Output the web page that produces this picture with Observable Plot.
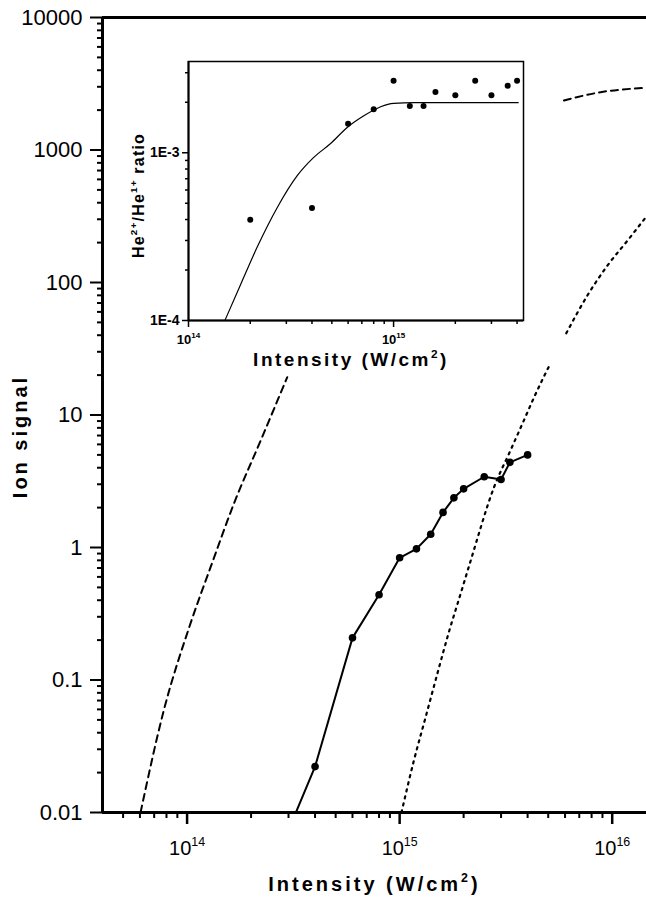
<!DOCTYPE html>
<html>
<head>
<meta charset="utf-8">
<script src="https://cdn.jsdelivr.net/npm/d3@7"></script>
<script src="https://cdn.jsdelivr.net/npm/@observablehq/plot@0.6"></script>
<style>
  html, body { margin: 0; padding: 0; background: #fff; }
  #wrap { position: relative; width: 646px; height: 907px; overflow: hidden; }
  #wrap > svg { position: absolute; }
  #inset text { font-weight: bold; }
</style>
</head>
<body>
<div id="wrap"></div>
<script>
// ---------- Main chart data ----------
// Measured He2+ ion signal (solid line with dots)
const he2Intensity = [4e14, 6e14, 8e14, 1e15, 1.2e15, 1.4e15, 1.6e15, 1.8e15, 2e15, 2.5e15, 3e15, 3.3e15, 4e15];
const he2Signal    = [0.0222, 0.208, 0.44, 0.836, 0.977, 1.26, 1.84, 2.37, 2.77, 3.42, 3.26, 4.39, 5.0];
// the solid line runs on below the first dot to the bottom axis
const he2LineIntensity = [3.25e14, ...he2Intensity];
const he2LineSignal    = [0.01, ...he2Signal];

// Dashed theory curve (visible parts only; the middle is hidden in the original)
const dashedIntensity = [6.04e13, 7.77e13, 1.03e14, 1.29e14, 1.66e14, 2.22e14, 2.96e14, NaN, 5.93e15, 8.81e15, 1.44e16];
const dashedSignal    = [0.01, 0.059, 0.258, 0.71, 2.14, 6.42, 19.3, NaN, 2366, 2730, 2946];

// Dotted theory curve (with the gap seen in the original)
const dottedIntensity = [1.02e15, 1.167e15, 1.325e15, 1.503e15, 1.705e15, 1.936e15, 2.16e15, 2.78e15, 3.32e15, 3.84e15, 4.29e15, 5.13e15, NaN, 6.08e15, 7.64e15, 9.49e15, 1.18e16, 1.44e16];
const dottedSignal    = [0.01, 0.0247, 0.0524, 0.111, 0.23, 0.448, 0.798, 2.85, 5.39, 9.09, 13.6, 24.6, NaN, 41.4, 79.7, 134, 207, 311];

// Main axis ticks
const mainYMajor = [0.01, 0.1, 1, 10, 100, 1000, 10000];
const mainXMajor = [1e14, 1e15, 1e16];

// ---------- Inset data ----------
const ratioIntensity = [2e14, 4e14, 6e14, 8e14, 1e15, 1.2e15, 1.4e15, 1.6e15, 2e15, 2.5e15, 3e15, 3.6e15, 4e15];
const ratioValue     = [3.99e-4, 4.69e-4, 1.49e-3, 1.82e-3, 2.69e-3, 1.90e-3, 1.90e-3, 2.30e-3, 2.20e-3, 2.69e-3, 2.20e-3, 2.51e-3, 2.69e-3];
const fitIntensity = [1.51e14, 1.80e14, 2.16e14, 2.71e14, 3.39e14, 4.08e14, 4.93e14, 5.94e14, 7.16e14, 8.65e14, 1.0e15, 1.26e15, 4.05e15];
const fitValue     = [1.01e-4, 1.65e-4, 2.73e-4, 4.72e-4, 7.30e-4, 9.38e-4, 1.135e-3, 1.415e-3, 1.66e-3, 1.88e-3, 1.97e-3, 1.99e-3, 1.99e-3];
const insetYMajor = [1e-4, 1e-3];
const insetXMajor = [1e14, 1e15];

// ---------- Tables ----------
const zip = (xs, ys) => xs.map((x, i) => ({x, y: ys[i]}));
const he2Pts  = zip(he2Intensity, he2Signal);
const he2Line = zip(he2LineIntensity, he2LineSignal);
const dashed  = zip(dashedIntensity, dashedSignal);
const dotted  = zip(dottedIntensity, dottedSignal);
const ratioPts = zip(ratioIntensity, ratioValue);
const fitLine  = zip(fitIntensity, fitValue);

const k29 = [2, 3, 4, 5, 6, 7, 8, 9];
const mainYMinor = mainYMajor.slice(0, -1).flatMap(m => k29.map(k => k * m));
const mainXMinor = [5e13, 6e13, 7e13, 8e13, 9e13, ...[1e14, 1e15].flatMap(m => k29.map(k => k * m))];
const insetYMinor = [...k29.map(k => k * 1e-4), 2e-3, 3e-3];
const insetXMinor = [...k29.map(k => k * 1e14), 2e15, 3e15, 4e15];

const FONT = "'Liberation Sans', Arial, Helvetica, sans-serif";
const pow10 = d => "10^{" + Math.round(Math.log10(d)) + "}";
const blank = () => "";

const main = Plot.plot({
  width: 646, height: 907,
  marginLeft: 102, marginRight: 0, marginTop: 17, marginBottom: 95,
  style: {fontFamily: FONT, background: "white", color: "black"},
  x: {type: "log", domain: [4e13, 1.45e16]},
  y: {type: "log", domain: [0.01, 10000]},
  marks: [
    Plot.axisY(mainYMajor, {anchor: "left", tickSize: 12, tickPadding: 8, fontSize: 22, fontWeight: "normal", strokeWidth: 2, tickFormat: d => String(d), label: null}),
    Plot.axisY(mainYMinor, {anchor: "left", tickSize: 5, strokeWidth: 2, tickFormat: blank, label: null}),
    Plot.axisX(mainXMajor, {anchor: "bottom", tickSize: 12, tickPadding: 16, fontSize: 20, fontWeight: "normal", strokeWidth: 2.5, tickFormat: pow10, label: null}),
    Plot.axisX(mainXMinor, {anchor: "bottom", tickSize: 6, strokeWidth: 2, tickFormat: blank, label: null}),
    Plot.line(dashed, {x: "x", y: "y", stroke: "black", strokeWidth: 2, strokeDasharray: "7,5", curve: "monotone-x", clip: true}),
    Plot.line(dotted, {x: "x", y: "y", stroke: "black", strokeWidth: 2.2, strokeDasharray: "2.2,5", curve: "monotone-x", clip: true}),
    Plot.line(he2Line, {x: "x", y: "y", stroke: "black", strokeWidth: 2, clip: true}),
    Plot.dot(he2Pts, {x: "x", y: "y", r: 3.8, fill: "black", stroke: "none"}),
    Plot.ruleX([4e13], {stroke: "black", strokeWidth: 3}),
    Plot.ruleY([0.01], {stroke: "black", strokeWidth: 3}),
    Plot.ruleY([10000], {stroke: "black", strokeWidth: 3}),
    Plot.text(["Ion signal"], {text: d => d, frameAnchor: "left", textAnchor: "middle", rotate: -90, dx: -82, dy: 21.5, fontSize: 20, fontWeight: "bold"}),
    Plot.text(["Intensity (W/cm^{2})"], {text: d => d, frameAnchor: "bottom", textAnchor: "middle", dy: 78, fontSize: 20, fontWeight: "bold"})
  ]
});
main.id = "main";
main.style.left = "0px"; main.style.top = "0px";

const inset = Plot.plot({
  width: 470, height: 345,
  marginLeft: 88, marginRight: 47, marginTop: 16, marginBottom: 70,
  style: {fontFamily: FONT, background: "transparent", color: "black", overflow: "visible"},
  x: {type: "log", domain: [1e14, 4.3e15]},
  y: {type: "log", domain: [1e-4, 3.5e-3]},
  marks: [
    Plot.frame({fill: "white", stroke: "black", strokeWidth: 1.5}),
    Plot.axisY(insetYMajor, {anchor: "left", tickSize: 6, tickPadding: 3, fontSize: 14, strokeWidth: 1.5, tickFormat: d => "1E" + Math.round(Math.log10(d)), label: null}),
    Plot.axisY(insetYMinor, {anchor: "left", tickSize: 3, strokeWidth: 1.5, tickFormat: blank, label: null}),
    Plot.axisX(insetXMajor, {anchor: "bottom", tickSize: 7, tickPadding: 7, fontSize: 13, strokeWidth: 1.5, tickFormat: pow10, label: null}),
    Plot.axisX(insetXMinor, {anchor: "bottom", tickSize: 4, strokeWidth: 1.5, tickFormat: blank, label: null}),
    Plot.line(fitLine, {x: "x", y: "y", stroke: "black", strokeWidth: 1.2, curve: "monotone-x", clip: true}),
    Plot.dot(ratioPts, {x: "x", y: "y", r: 3, fill: "black", stroke: "none"}),
    Plot.ruleX([1e14], {stroke: "black", strokeWidth: 2}),
    Plot.ruleY([1e-4], {stroke: "black", strokeWidth: 2}),
    Plot.text(["Intensity (W/cm^{2})"], {text: d => d, frameAnchor: "bottom", textAnchor: "middle", dx: -5, dy: 45, fontSize: 19, fontWeight: "bold"}),
    Plot.text(["He^{2+}/He^{1+} ratio"], {text: d => d, frameAnchor: "left", textAnchor: "middle", rotate: -90, dx: -50, dy: 4.5, fontSize: 16, fontWeight: "bold"})
  ]
});
inset.id = "inset";
inset.style.left = "100px"; inset.style.top = "45px";

const wrap = document.getElementById("wrap");
wrap.appendChild(main);
wrap.appendChild(inset);

// letter spacing of the axis titles
function spaceTitles(svg, rules) {
  d3.select(svg).selectAll("text").each(function () {
    const t = this.textContent;
    for (const [prefix, ls] of rules) if (t.startsWith(prefix)) this.style.letterSpacing = ls + "px";
  });
}
spaceTitles(main, [["Ion signal", 3], ["Intensity", 3]]);
spaceTitles(inset, [["Intensity", 2.5], ["He^", 1.2]]);

// turn "^{...}" into raised tspans
function supify(svg) {
  d3.select(svg).selectAll("text").each(function () {
    const t = this.textContent;
    if (!t.includes("^{")) return;
    const f = parseFloat(getComputedStyle(this).fontSize) || 12;
    const supSize = f * 0.62, rise = f * 0.42;
    const parts = t.split(/\^\{([^}]*)\}/);
    const sel = d3.select(this);
    sel.text("");
    let raised = false;
    parts.forEach((p, i) => {
      if (p === "") return;
      const ts = sel.append("tspan").text(p);
      if (i % 2 === 1) { ts.attr("font-size", supSize).attr("dy", -rise); raised = true; }
      else if (raised) { ts.attr("dy", rise); raised = false; }
    });
  });
}
supify(main);
supify(inset);
</script>
</body>
</html>
